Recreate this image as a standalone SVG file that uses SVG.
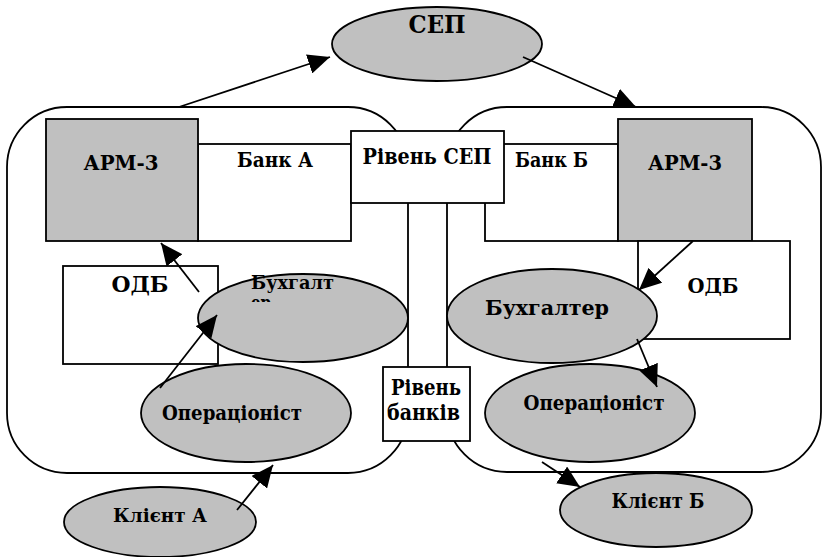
<svg xmlns="http://www.w3.org/2000/svg" width="823" height="557" viewBox="0 0 823 557">
  <style>
    .frame { fill: #ffffff; stroke: #000000; stroke-width: 1.8; }
    .box { fill: #ffffff; stroke: #000000; stroke-width: 1.8; }
    .grey { fill: #c0c0c0; stroke: #000000; stroke-width: 1.8; }
    text { font-family: 'DejaVu Serif Condensed', 'DejaVu Serif', 'Liberation Serif', serif; font-stretch: condensed; font-weight: bold; font-size: 21px; fill: #000000; }
    .mid { text-anchor: middle; }
    .conn { stroke: #000000; stroke-width: 1.8; fill: none; marker-end: url(#head); }
  </style>
  <defs>
    <marker id="head" markerUnits="userSpaceOnUse" markerWidth="24" markerHeight="20" refX="22" refY="10" orient="auto">
      <path d="M0,0 L22,10 L0,20 Z" fill="#000000"/>
    </marker>
    <clipPath id="clipBuh">
      <rect x="240" y="270" width="110" height="32"/>
    </clipPath>
  </defs>

  <!-- bank boundaries -->
  <g id="bankA-frame">
    <rect class="frame" x="7" y="107" width="401" height="366" rx="60" ry="60"/>
  </g>
  <g id="bankB-frame">
    <rect class="frame" x="447" y="107" width="374" height="365" rx="60" ry="60"/>
  </g>

  <!-- Bank A -->
  <g id="bankA">
    <rect class="box" x="198" y="144" width="153" height="97"/>
    <text class="mid" x="275" y="167" textLength="76" lengthAdjust="spacingAndGlyphs">Банк А</text>
  </g>
  <g id="arm3-a">
    <rect class="grey" x="46" y="119" width="152" height="122"/>
    <text class="mid" x="121" y="170" textLength="75" lengthAdjust="spacingAndGlyphs">АРМ-3</text>
  </g>

  <!-- Bank B -->
  <g id="bankB">
    <rect class="box" x="485" y="144" width="133" height="97"/>
    <text x="515" y="167" textLength="73" lengthAdjust="spacingAndGlyphs">Банк Б</text>
  </g>
  <g id="arm3-b">
    <rect class="grey" x="618" y="119" width="134" height="122"/>
    <text class="mid" x="685" y="170" textLength="74" lengthAdjust="spacingAndGlyphs">АРМ-3</text>
  </g>

  <!-- SEP level -->
  <g id="level-sep">
    <rect class="box" x="351" y="131" width="153" height="72"/>
    <text class="mid" x="427" y="164" style="font-size:22px" textLength="129" lengthAdjust="spacingAndGlyphs">Рівень СЕП</text>
  </g>

  <!-- bank level -->
  <g id="level-banks">
    <rect class="box" x="383" y="367" width="87" height="74"/>
    <text x="391" y="395" style="font-size:22px" textLength="70" lengthAdjust="spacingAndGlyphs">Рівень</text>
    <text x="387" y="420" style="font-size:22px" textLength="73" lengthAdjust="spacingAndGlyphs">банків</text>
  </g>

  <!-- ODB boxes -->
  <g id="odb-a">
    <rect class="box" x="63" y="266" width="155" height="98"/>
    <text class="mid" x="140" y="292" style="font-size:23px" textLength="57" lengthAdjust="spacingAndGlyphs">ОДБ</text>
  </g>
  <g id="odb-b">
    <rect class="box" x="638" y="241" width="152" height="98"/>
    <text class="mid" x="713" y="293" textLength="51" lengthAdjust="spacingAndGlyphs">ОДБ</text>
  </g>

  <!-- SEP -->
  <g id="sep">
    <ellipse class="grey" cx="437" cy="44" rx="105" ry="37"/>
    <text class="mid" x="437" y="33" style="font-size:24px" textLength="57" lengthAdjust="spacingAndGlyphs">СЕП</text>
  </g>

  <!-- accountant A (label clipped by its text frame) -->
  <g id="accountant-a">
    <ellipse class="grey" cx="303" cy="318" rx="105" ry="44"/>
    <g clip-path="url(#clipBuh)">
      <text x="251" y="289" style="font-size:18px" textLength="83" lengthAdjust="spacingAndGlyphs">Бухгалт</text>
      <text x="251" y="309" style="font-size:18px" textLength="20" lengthAdjust="spacingAndGlyphs">ер</text>
    </g>
  </g>

  <!-- operator A -->
  <g id="operator-a">
    <ellipse class="grey" cx="246" cy="413" rx="105" ry="49"/>
    <text class="mid" x="232" y="420" style="font-size:20px" textLength="140" lengthAdjust="spacingAndGlyphs">Операціоніст</text>
  </g>

  <!-- client A -->
  <g id="client-a">
    <ellipse class="grey" cx="160" cy="522" rx="96" ry="35"/>
    <text class="mid" x="160" y="522" style="font-size:19px" textLength="94" lengthAdjust="spacingAndGlyphs">Клієнт А</text>
  </g>

  <!-- accountant B -->
  <g id="accountant-b">
    <ellipse class="grey" cx="552" cy="316" rx="105" ry="47"/>
    <text class="mid" x="547" y="315" textLength="124" lengthAdjust="spacingAndGlyphs">Бухгалтер</text>
  </g>

  <!-- operator B -->
  <g id="operator-b">
    <ellipse class="grey" cx="590" cy="413" rx="105" ry="49"/>
    <text class="mid" x="594" y="410" style="font-size:20px" textLength="141" lengthAdjust="spacingAndGlyphs">Операціоніст</text>
  </g>

  <!-- client B -->
  <g id="client-b">
    <ellipse class="grey" cx="656" cy="510" rx="96" ry="37"/>
    <text class="mid" x="658" y="508" style="font-size:20px" textLength="93" lengthAdjust="spacingAndGlyphs">Клієнт Б</text>
  </g>

  <!-- connectors -->
  <g id="connectors">
    <line class="conn" x1="179" y1="107" x2="330" y2="57"/>
    <line class="conn" x1="523" y1="57" x2="636" y2="107"/>
    <line class="conn" x1="199" y1="292" x2="161" y2="243"/>
    <line class="conn" x1="160" y1="388" x2="217" y2="315"/>
    <line class="conn" x1="237" y1="510" x2="273" y2="465"/>
    <line class="conn" x1="693" y1="241" x2="639" y2="290"/>
    <line class="conn" x1="637" y1="339" x2="657" y2="387"/>
    <line class="conn" x1="542" y1="462" x2="580" y2="487"/>
  </g>
</svg>
